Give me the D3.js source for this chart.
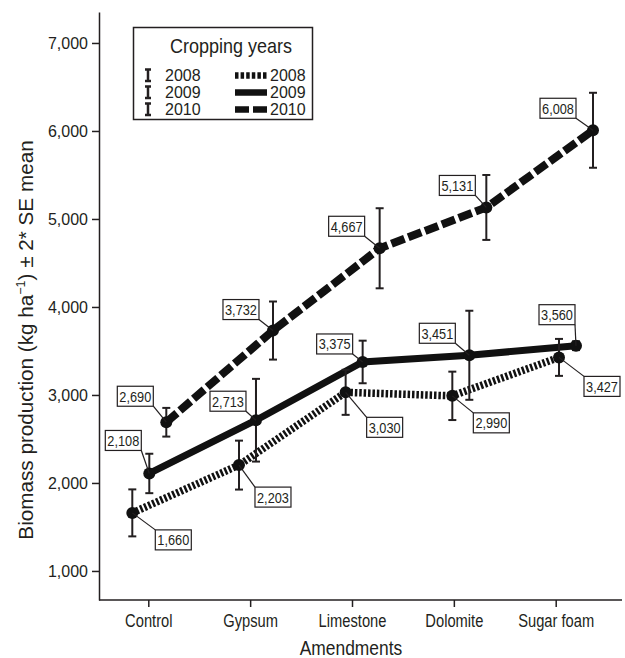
<!DOCTYPE html>
<meta charset="utf-8">
<style>
body {
  margin: 0;
  background: #fff;
}
svg {
  position: absolute;
  left: 0;
  top: 0;
  font-family: 'Liberation Sans', Arial, sans-serif;
}
.axis path, .axis line {
  stroke: #231f20;
  stroke-width: 1.5px;
}
.axis text {
  fill: #231f20;
  font-size: 16px;
}
.xaxis text {
  font-size: 17.5px;
}
.tag rect {
  fill: #fff;
  stroke: #231f20;
  stroke-width: 1.2px;
}
.tag text {
  fill: #231f20;
  font-size: 15px;
}
</style>
<svg width="625" height="658"></svg>
<script src="https://d3js.org/d3.v7.min.js"></script>
<script>
var categories = ["Control", "Gypsum", "Limestone", "Dolomite", "Sugar foam"];
var years = ["2008", "2009", "2010"];

// mean biomass, kg/ha
var biomass2008 = [1660, 2203, 3030, 2990, 3427];
var biomass2009 = [2108, 2713, 3375, 3451, 3560];
var biomass2010 = [2690, 3732, 4667, 5131, 6008];

// 2*SE
var error2008 = [267, 278, 256, 275, 210];
var error2009 = [224, 470, 242, 506, 50];
var error2010 = [163, 330, 455, 369, 426];

var yTicks = [1000, 2000, 3000, 4000, 5000, 6000, 7000];

// where each value box sits relative to its point
var labelOffsets = {
  "2008": [[41, 27], [34, 32], [39, 35], [39, 27], [43, 29]],
  "2009": [[-26, -33], [-28, -19], [-28, -18], [-32, -22], [-19, -31]],
  "2010": [[-31, -26], [-32, -21], [-33, -22], [-29, -22], [-35, -22]]
};

var lineStyles = {
  "2008": {width: 7.5, dash: "2.5,1.9"},
  "2009": {width: 7, dash: null},
  "2010": {width: 8, dash: "14,4"}
};

var series = years.map(function(yr, i) {
  var vals = [biomass2008, biomass2009, biomass2010][i];
  var errs = [error2008, error2009, error2010][i];
  return {
    year: yr,
    points: categories.map(function(c, j) {
      return {cat: c, idx: j, year: yr, value: vals[j], err: errs[j]};
    })
  };
});

var svg = d3.select("svg");

var y = d3.scaleLinear().domain([670, 7352]).range([600, 12]);
var xTick = d3.scalePoint().domain(categories).range([148.3, 555.7]);
var xData = d3.scalePoint().domain(categories).range([149.3, 576]);
var xYear = d3.scalePoint().domain(years).range([-17, 17]);

function px(d) { return xData(d.cat) + xYear(d.year); }

// axes
svg.append("g")
    .attr("class", "axis")
    .attr("transform", "translate(99,0)")
    .call(d3.axisLeft(y).tickValues(yTicks).tickSize(7).tickSizeOuter(0).tickPadding(4)
      .tickFormat(d3.format(",")));

var xg = svg.append("g")
    .attr("class", "axis xaxis")
    .attr("transform", "translate(0,600)")
    .call(d3.axisBottom(xTick).tickSize(7).tickSizeOuter(0).tickPadding(8));
xg.select(".domain").remove();
xg.selectAll(".tick text").attr("transform", "scale(0.84,1)");
xg.append("line").attr("x1", 99).attr("x2", 622);

svg.append("text")
    .attr("transform", "translate(351,655) scale(0.87,1)")
    .attr("text-anchor", "middle")
    .attr("fill", "#231f20")
    .style("font-size", "20px")
    .text("Amendments");

var ytitle = svg.append("text")
    .attr("transform", "translate(33,340) rotate(-90)")
    .attr("text-anchor", "middle")
    .attr("fill", "#231f20")
    .style("font-size", "20.7px");
ytitle.append("tspan").text("Biomass production (kg ha");
ytitle.append("tspan").attr("dy", -8).style("font-size", "12.5px").text("\u22121");
ytitle.append("tspan").attr("dy", 8).text(") \u00b1 2* SE mean");

// lines
var line = d3.line()
    .x(px)
    .y(function(d) { return y(d.value); });

svg.append("g").selectAll("path")
    .data(series)
  .enter().append("path")
    .attr("d", function(s) { return line(s.points); })
    .attr("fill", "none")
    .attr("stroke", "#111")
    .attr("stroke-width", function(s) { return lineStyles[s.year].width; })
    .attr("stroke-dasharray", function(s) { return lineStyles[s.year].dash; });

var allPoints = [].concat.apply([], series.map(function(s) { return s.points; }));

// error bars
var bars = svg.append("g")
    .attr("stroke", "#231f20")
    .attr("stroke-width", 2)
  .selectAll("g")
    .data(allPoints)
  .enter().append("g");

bars.append("line")
    .attr("x1", px).attr("x2", px)
    .attr("y1", function(d) { return y(d.value - d.err); })
    .attr("y2", function(d) { return y(d.value + d.err); });
bars.append("line")
    .attr("x1", function(d) { return px(d) - 4; })
    .attr("x2", function(d) { return px(d) + 4; })
    .attr("y1", function(d) { return y(d.value + d.err); })
    .attr("y2", function(d) { return y(d.value + d.err); });
bars.append("line")
    .attr("x1", function(d) { return px(d) - 4; })
    .attr("x2", function(d) { return px(d) + 4; })
    .attr("y1", function(d) { return y(d.value - d.err); })
    .attr("y2", function(d) { return y(d.value - d.err); });

svg.append("g").selectAll("circle")
    .data(allPoints)
  .enter().append("circle")
    .attr("cx", px)
    .attr("cy", function(d) { return y(d.value); })
    .attr("r", 6)
    .attr("fill", "#111");

// value boxes with leader lines
var fmt = d3.format(",");
var bw = 36, bh = 20;

var tags = svg.append("g").selectAll("g")
    .data(allPoints)
  .enter().append("g")
    .attr("class", "tag");

tags.append("line")
    .attr("stroke", "#231f20")
    .attr("stroke-width", 1.2)
    .each(function(d) {
      var off = labelOffsets[d.year][d.idx];
      var x0 = px(d), y0 = y(d.value);
      var cx = x0 + off[0], cy = y0 + off[1];
      var ex = off[0] > 0 ? cx - bw / 2 : cx + bw / 2;
      var ey = off[1] > 0 ? cy - bh / 2 : cy + bh / 2;
      d3.select(this).attr("x1", x0).attr("y1", y0).attr("x2", ex).attr("y2", ey);
    });

tags.append("rect")
    .attr("x", function(d) { return px(d) + labelOffsets[d.year][d.idx][0] - bw / 2; })
    .attr("y", function(d) { return y(d.value) + labelOffsets[d.year][d.idx][1] - bh / 2; })
    .attr("width", bw)
    .attr("height", bh);

tags.append("text")
    .attr("transform", function(d) {
      var off = labelOffsets[d.year][d.idx];
      return "translate(" + (px(d) + off[0]) + "," + (y(d.value) + off[1] + 5.5) + ") scale(0.85,1)";
    })
    .attr("text-anchor", "middle")
    .text(function(d) { return fmt(d.value); });

// legend
var legend = svg.append("g");
legend.append("rect")
    .attr("x", 133.5).attr("y", 27.5)
    .attr("width", 179).attr("height", 92)
    .attr("fill", "#fff")
    .attr("stroke", "#231f20")
    .attr("stroke-width", 1.5);
legend.append("text")
    .attr("transform", "translate(231,53) scale(0.9,1)")
    .attr("text-anchor", "middle")
    .attr("fill", "#231f20")
    .style("font-size", "20px")
    .text("Cropping years");

var rows = legend.selectAll(".row")
    .data(years)
  .enter().append("g")
    .attr("class", "row")
    .attr("transform", function(d, i) { return "translate(0," + (81 + i * 17) + ")"; });

rows.append("path")
    .attr("d", "M145,-11.5H151M148,-11.5V0M145,0H151")
    .attr("stroke", "#231f20")
    .attr("stroke-width", 2.5)
    .attr("fill", "none");
rows.append("text")
    .attr("x", 165)
    .attr("fill", "#231f20")
    .style("font-size", "16px")
    .text(function(d) { return d; });
rows.append("line")
    .attr("x1", 235).attr("x2", 267)
    .attr("y1", -5.5).attr("y2", -5.5)
    .attr("stroke", "#111")
    .attr("stroke-width", 6.5)
    .attr("stroke-dasharray", function(d) {
      return d == "2008" ? "3.5,2.1" : d == "2010" ? "14,4" : null;
    });
rows.append("text")
    .attr("x", 270)
    .attr("fill", "#231f20")
    .style("font-size", "16px")
    .text(function(d) { return d; });
</script>
